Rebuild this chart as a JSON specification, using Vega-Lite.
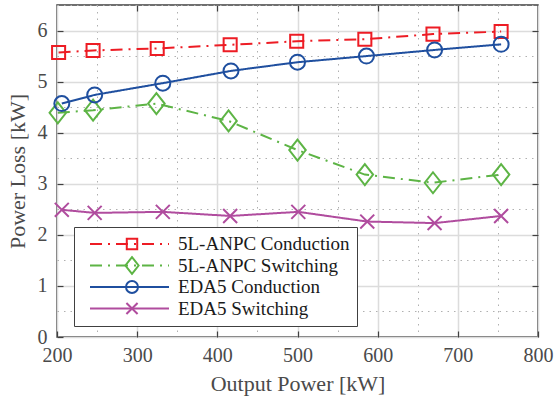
{
  "$schema": "https://vega.github.io/schema/vega-lite/v6.json",
  "width": 481,
  "height": 332,
  "autosize": "none",
  "padding": {"left": 57, "top": 5, "right": 16, "bottom": 68},
  "config": {
    "view": {"stroke": "#404040", "strokeWidth": 1.5},
    "font": "Liberation Serif"
  },
  "data": {
    "values": [
      {"x": 202, "y": 5.57, "series": "5L-ANPC Conduction"},
      {"x": 245, "y": 5.61, "series": "5L-ANPC Conduction"},
      {"x": 325, "y": 5.65, "series": "5L-ANPC Conduction"},
      {"x": 416, "y": 5.72, "series": "5L-ANPC Conduction"},
      {"x": 499, "y": 5.79, "series": "5L-ANPC Conduction"},
      {"x": 584, "y": 5.83, "series": "5L-ANPC Conduction"},
      {"x": 669, "y": 5.93, "series": "5L-ANPC Conduction"},
      {"x": 754, "y": 5.98, "series": "5L-ANPC Conduction"},
      {"x": 201, "y": 4.39, "series": "5L-ANPC Switching"},
      {"x": 245, "y": 4.44, "series": "5L-ANPC Switching"},
      {"x": 324, "y": 4.57, "series": "5L-ANPC Switching"},
      {"x": 414, "y": 4.23, "series": "5L-ANPC Switching"},
      {"x": 500, "y": 3.66, "series": "5L-ANPC Switching"},
      {"x": 584, "y": 3.18, "series": "5L-ANPC Switching"},
      {"x": 669, "y": 3.02, "series": "5L-ANPC Switching"},
      {"x": 754, "y": 3.18, "series": "5L-ANPC Switching"},
      {"x": 206, "y": 4.57, "series": "EDA5 Conduction"},
      {"x": 247, "y": 4.74, "series": "EDA5 Conduction"},
      {"x": 332, "y": 4.97, "series": "EDA5 Conduction"},
      {"x": 417, "y": 5.21, "series": "EDA5 Conduction"},
      {"x": 500, "y": 5.38, "series": "EDA5 Conduction"},
      {"x": 586, "y": 5.50, "series": "EDA5 Conduction"},
      {"x": 671, "y": 5.62, "series": "EDA5 Conduction"},
      {"x": 754, "y": 5.73, "series": "EDA5 Conduction"},
      {"x": 206, "y": 2.49, "series": "EDA5 Switching"},
      {"x": 247, "y": 2.43, "series": "EDA5 Switching"},
      {"x": 332, "y": 2.45, "series": "EDA5 Switching"},
      {"x": 416, "y": 2.37, "series": "EDA5 Switching"},
      {"x": 501, "y": 2.45, "series": "EDA5 Switching"},
      {"x": 587, "y": 2.26, "series": "EDA5 Switching"},
      {"x": 671, "y": 2.23, "series": "EDA5 Switching"},
      {"x": 754, "y": 2.37, "series": "EDA5 Switching"}
    ]
  },
  "layer": [
    {
      "mark": {"type": "line", "strokeWidth": 2},
      "encoding": {
        "x": {
          "field": "x", "type": "quantitative",
          "scale": {"domain": [200, 800], "nice": false, "zero": false},
          "axis": {
            "values": [200, 250, 300, 350, 400, 450, 500, 550, 600, 650, 700, 750, 800],
            "labelExpr": "datum.value % 100 === 0 ? '' + datum.value : ''",
            "labelFlush": false, "labelOverlap": false,
            "labelFont": "Liberation Serif", "labelFontSize": 20, "labelColor": "#4a4a4a",
            "labelPadding": 14,
            "title": "Output Power [kW]", "titleFont": "Liberation Serif", "titleFontSize": 22,
            "titleFontWeight": "normal", "titleColor": "#4a4a4a", "titlePadding": 8,
            "domain": false,
            "tickSize": -6, "tickColor": "#404040", "tickWidth": 1.2,
            "tickOpacity": {"condition": {"test": "datum.value % 100 === 0", "value": 1}, "value": 0},
            "grid": true,
            "gridColor": {"condition": {"test": "datum.value % 100 === 0", "value": "#dcdcdc"}, "value": "#b0b0b0"},
            "gridWidth": {"condition": {"test": "datum.value % 100 === 0", "value": 1.5}, "value": 1},
            "gridDash": {"condition": {"test": "datum.value % 100 === 0", "value": [1, 0]}, "value": [1.5, 5]}
          }
        },
        "y": {
          "field": "y", "type": "quantitative",
          "scale": {"domain": [0, 6.5], "nice": false, "zero": false},
          "axis": {
            "values": [0, 0.5, 1, 1.5, 2, 2.5, 3, 3.5, 4, 4.5, 5, 5.5, 6, 6.5],
            "labelExpr": "datum.value % 1 === 0 ? '' + datum.value : ''",
            "labelFlush": false, "labelOverlap": false,
            "labelFont": "Liberation Serif", "labelFontSize": 20, "labelColor": "#4a4a4a",
            "labelPadding": 16,
            "title": "Power Loss [kW]", "titleFont": "Liberation Serif", "titleFontSize": 22,
            "titleFontWeight": "normal", "titleColor": "#4a4a4a", "titlePadding": 8,
            "domain": false,
            "tickSize": -6, "tickColor": "#404040", "tickWidth": 1.2,
            "tickOpacity": {"condition": {"test": "datum.value % 1 === 0", "value": 1}, "value": 0},
            "grid": true,
            "gridColor": {"condition": {"test": "datum.value % 1 === 0", "value": "#dcdcdc"}, "value": "#b0b0b0"},
            "gridWidth": {"condition": {"test": "datum.value % 1 === 0", "value": 1.5}, "value": 1},
            "gridDash": {"condition": {"test": "datum.value % 1 === 0", "value": [1, 0]}, "value": [1.5, 5]}
          }
        },
        "color": {
          "field": "series", "type": "nominal",
          "scale": {"range": ["#ed1c24", "#5db445", "#1f4f9f", "#b04c9e"]},
          "legend": {
            "orient": "none", "legendX": 17, "legendY": 222, "title": null,
            "symbolType": "stroke", "symbolSize": 6241, "symbolStrokeWidth": 2,
            "clipHeight": 20, "rowPadding": 1.5, "labelLimit": 0,
            "padding": 7, "symbolOffset": 8, "labelOffset": 8,
            "labelFont": "Liberation Serif", "labelFontSize": 19, "labelColor": "#1a1a1a",
            "fillColor": "white", "strokeColor": "#404040", "cornerRadius": 0, "zindex": 1
          }
        },
        "strokeDash": {
          "field": "series", "type": "nominal",
          "scale": {"range": [[12, 6, 2, 6], [12, 6, 2, 6], [1, 0], [1, 0]]},
          "legend": {
            "orient": "none", "legendX": 17, "legendY": 222, "title": null,
            "symbolType": "stroke", "symbolSize": 6241, "symbolStrokeWidth": 2,
            "clipHeight": 20, "rowPadding": 1.5, "labelLimit": 0,
            "padding": 7, "symbolOffset": 8, "labelOffset": 8,
            "labelFont": "Liberation Serif", "labelFontSize": 19, "labelColor": "#1a1a1a",
            "fillColor": "white", "strokeColor": "#404040", "cornerRadius": 0, "zindex": 1
          }
        }
      }
    },
    {
      "mark": {"type": "point", "filled": false, "strokeWidth": 2, "opacity": 1, "size": 225},
      "encoding": {
        "x": {
          "field": "x", "type": "quantitative",
          "scale": {"domain": [200, 800], "nice": false, "zero": false},
          "axis": {
            "orient": "top", "values": [300, 400, 500, 600, 700], "labels": false, "title": null,
            "domain": false, "grid": false, "tickSize": -6, "tickColor": "#404040", "tickWidth": 1.2
          }
        },
        "y": {
          "field": "y", "type": "quantitative",
          "scale": {"domain": [0, 6.5], "nice": false, "zero": false},
          "axis": {
            "orient": "right", "values": [1, 2, 3, 4, 5, 6], "labels": false, "title": null,
            "domain": false, "grid": false, "tickSize": -6, "tickColor": "#404040", "tickWidth": 1.2
          }
        },
        "stroke": {
          "field": "series", "type": "nominal",
          "scale": {
            "domain": ["5L-ANPC Conduction", "5L-ANPC Switching", "EDA5 Conduction", "EDA5 Switching"],
            "range": ["#ed1c24", "#5db445", "#1f4f9f", "#b04c9e"]
          },
          "legend": {
            "orient": "none", "legendX": 50.5, "legendY": 222, "title": null,
            "symbolSize": 144, "symbolStrokeWidth": 2,
            "clipHeight": 20, "rowPadding": 1.5, "labelLimit": 0,
            "padding": 7, "symbolOffset": 8, "labelOffset": 8,
            "labelFont": "Liberation Serif", "labelFontSize": 19, "labelExpr": "''",
            "zindex": 2
          }
        },
        "shape": {
          "field": "series", "type": "nominal",
          "scale": {
            "domain": ["5L-ANPC Conduction", "5L-ANPC Switching", "EDA5 Conduction", "EDA5 Switching"],
            "range": [
              "M-0.87,-0.87H0.87V0.87H-0.87Z",
              "M0,-1.4L1.1,0L0,1.4L-1.1,0Z",
              "circle",
              "M-0.93,-0.93L0.93,0.93M-0.93,0.93L0.93,-0.93"
            ]
          },
          "legend": {
            "orient": "none", "legendX": 50.5, "legendY": 222, "title": null,
            "symbolSize": 144, "symbolStrokeWidth": 2,
            "clipHeight": 20, "rowPadding": 1.5, "labelLimit": 0,
            "padding": 7, "symbolOffset": 8, "labelOffset": 8,
            "labelFont": "Liberation Serif", "labelFontSize": 19, "labelExpr": "''",
            "zindex": 2
          }
        }
      }
    }
  ],
  "resolve": {"axis": {"x": "independent", "y": "independent"}}
}
